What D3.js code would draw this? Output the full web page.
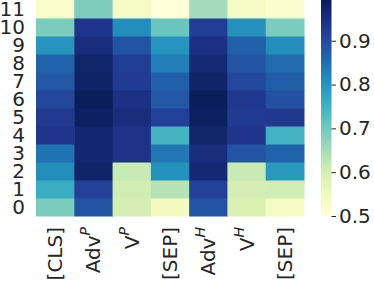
<!DOCTYPE html>
<html><head><meta charset="utf-8">
<script src="https://cdn.jsdelivr.net/npm/d3@7"></script>
<style>body{margin:0;background:#fff}svg{display:block}text{font-family:"DejaVu Sans",sans-serif;fill:#262626}</style>
</head><body><svg id="c" width="374" height="282"></svg>
<script>
const columns = ["[CLS]", "Adv|P", "V|P", "[SEP]", "Adv|H", "V|H", "[SEP] "];
const layers = ["0","1","2","3","4","5","6","7","8","9","10","11"];
// values[layer][column]
const layer0  = [0.690, 0.885, 0.600, 0.545, 0.885, 0.590, 0.535];
const layer1  = [0.760, 0.915, 0.605, 0.635, 0.915, 0.600, 0.605];
const layer2  = [0.810, 0.975, 0.615, 0.805, 0.965, 0.615, 0.795];
const layer3  = [0.845, 0.968, 0.940, 0.840, 0.953, 0.885, 0.865];
const layer4  = [0.935, 0.968, 0.940, 0.747, 0.973, 0.935, 0.750];
const layer5  = [0.927, 0.983, 0.953, 0.915, 0.985, 0.925, 0.930];
const layer6  = [0.905, 0.990, 0.945, 0.880, 0.990, 0.930, 0.890];
const layer7  = [0.880, 0.978, 0.925, 0.870, 0.975, 0.905, 0.872];
const layer8  = [0.865, 0.973, 0.920, 0.830, 0.963, 0.885, 0.855];
const layer9  = [0.800, 0.953, 0.885, 0.800, 0.944, 0.870, 0.810];
const layer10 = [0.690, 0.935, 0.810, 0.707, 0.920, 0.805, 0.690];
const layer11 = [0.525, 0.687, 0.535, 0.500, 0.653, 0.535, 0.515];
const values = [layer0,layer1,layer2,layer3,layer4,layer5,layer6,layer7,layer8,layer9,layer10,layer11];
const vmin = 0.5, vmax = 0.993;
const cbTicks = [0.5, 0.6, 0.7, 0.8, 0.9];

const svg = d3.select("#c");
const x = d3.scaleBand().domain(d3.range(columns.length)).range([36, 304]);
const y = d3.scaleBand().domain(layers).range([216, 0]);
const color = d3.scaleSequential(d3.interpolateYlGnBu).domain([vmin, vmax]);

const cells = [];
values.forEach((row, li) => row.forEach((v, ci) => cells.push({li, ci, v})));
svg.append("g").selectAll("rect").data(cells).join("rect")
  .attr("x", d => x(d.ci)).attr("y", d => y(layers[d.li]))
  .attr("width", x.bandwidth() + 0.5).attr("height", y.bandwidth() + 0.5)
  .attr("fill", d => color(d.v));

// y labels
svg.append("g").selectAll("text").data(layers).join("text")
  .attr("x", 25).attr("y", d => y(d) + y.bandwidth()/2)
  .attr("text-anchor", "end").attr("dominant-baseline", "central")
  .attr("font-size", 20).text(d => d);

// x labels rotated
const xl = svg.append("g").selectAll("text").data(columns).join("text")
  .attr("transform", (d, i) => `translate(${x(i) + x.bandwidth()/2},227) rotate(-90)`)
  .attr("text-anchor", "end").attr("dominant-baseline", "central")
  .attr("font-size", 20);
xl.each(function(d) {
  const t = d3.select(this);
  const parts = d.trim().split("|");
  t.append("tspan").text(parts[0]);
  if (parts[1]) t.append("tspan").attr("font-size", 14).attr("font-style", "italic")
    .attr("dy", -8).text(parts[1]);
});

// colorbar
const cbY = d3.scaleLinear().domain([vmin, vmax]).range([216, 0]);
const defs = svg.append("defs");
const grad = defs.append("linearGradient").attr("id", "g").attr("x1", 0).attr("x2", 0).attr("y1", 1).attr("y2", 0);
d3.range(0, 1.0001, 0.05).forEach(t => grad.append("stop").attr("offset", t).attr("stop-color", d3.interpolateYlGnBu(t)));
svg.append("rect").attr("x", 321).attr("y", 0).attr("width", 10.5).attr("height", 216).attr("fill", "url(#g)");
const cbAxis = d3.axisRight(cbY).tickValues(cbTicks).tickFormat(d3.format(".1f")).tickSize(4.5).tickPadding(3);
const ga = svg.append("g").attr("transform", "translate(331.5,0)").call(cbAxis);
ga.select(".domain").remove();
ga.selectAll("line").attr("stroke", "#262626").attr("stroke-width", 1);
ga.selectAll("text").attr("font-size", 20).attr("font-family", "DejaVu Sans").attr("fill", "#262626");
</script></body></html>
